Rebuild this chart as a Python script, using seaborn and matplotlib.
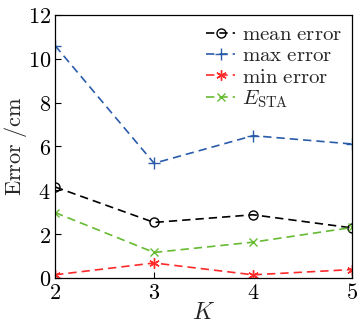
import matplotlib
matplotlib.use("Agg")
import matplotlib.pyplot as plt
import seaborn as sns
import pandas as pd

K = [2, 3, 4, 5]
mean_err = [4.15, 2.53, 2.88, 2.28]
max_err = [10.6, 5.23, 6.49, 6.11]
min_err = [0.14, 0.68, 0.14, 0.38]
e_sta = [2.98, 1.16, 1.63, 2.3]
x_ticks = [2, 3, 4, 5]
y_ticks = [0, 2, 4, 6, 8, 10, 12]

sns.set_theme(style="ticks")
plt.rcParams['font.family'] = ['DejaVu Serif']
plt.rcParams['mathtext.fontset'] = 'cm'

fig, ax = plt.subplots(figsize=(3.6, 3.25), dpi=100)

series = [
    (r"$\mathrm{mean\ error}$", mean_err, "black", "o", dict(mfc="none", ms=6.5)),
    (r"$\mathrm{max\ error}$", max_err, "#2a5caa", "+", dict(ms=8)),
    (r"$\mathrm{min\ error}$", min_err, "#ff2a2a", (6, 2, 0), dict(ms=7.5)),
    (r"$E_{\mathrm{STA}}$", e_sta, "#66bb33", "x", dict(ms=5.5)),
]
for label, vals, color, marker, kw in series:
    df = pd.DataFrame({"K": K, "v": vals})
    sns.lineplot(data=df, x="K", y="v", ax=ax, color=color, marker=marker,
                 linestyle=(0, (5, 3)), linewidth=1.2, label=label,
                 markeredgecolor=color, markeredgewidth=1.0, **kw)

ax.set_xlim(2, 5)
ax.set_ylim(0, 12)
ax.set_xticks(x_ticks)
ax.set_xticklabels([rf"$\mathrm{{{t}}}$" for t in x_ticks])
ax.set_yticks(y_ticks)
ax.set_yticklabels([rf"$\mathrm{{{t}}}$" for t in y_ticks])
ax.tick_params(direction="in", labelsize=16, length=4, width=0.8, colors="black", pad=3)
ax.set_xlabel(r"$K$", fontsize=17, labelpad=-2)
ax.set_ylabel(r"$\mathrm{Error\ /cm}$", fontsize=16, labelpad=-1)
for s in ax.spines.values():
    s.set_visible(True)
    s.set_color("black")
    s.set_linewidth(0.9)

leg = ax.legend(loc="upper right", fontsize=15, frameon=False,
                handlelength=1.4, handletextpad=0.3,
                labelspacing=0.1, borderpad=0.2, borderaxespad=0.3)

fig.subplots_adjust(left=0.153, right=0.978, top=0.954, bottom=0.145)
fig.savefig("out.png", dpi=100)
